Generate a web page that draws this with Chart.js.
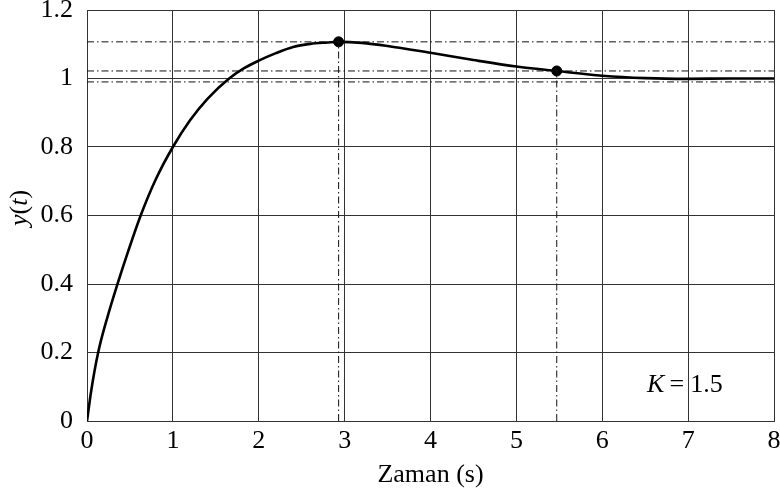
<!DOCTYPE html>
<html>
<head>
<meta charset="utf-8">
<script src="https://cdn.jsdelivr.net/npm/chart.js@4.4.1/dist/chart.umd.min.js"></script>
<style>
  body { margin: 0; background: #fff; }
  #wrap { width: 780px; height: 491px; }
</style>
</head>
<body>
<div id="wrap"><canvas id="stepChart" width="780" height="491"></canvas></div>
<script>
// step response y(t) for K = 1.5
const timeS = [0, 0.05, 0.13, 0.24, 0.355, 0.48, 0.625, 0.8, 1.0, 1.2, 1.4, 1.655, 1.83,
               2.0, 2.2, 2.4, 2.6, 2.8, 2.93, 3.2, 3.5, 4.0, 4.5, 5.0, 5.47, 6.0, 6.5, 7.0, 7.5, 8.0];
const response = [0, 0.09, 0.2, 0.305, 0.4, 0.496, 0.6, 0.705, 0.8, 0.878, 0.94, 1.0, 1.03,
                  1.052, 1.074, 1.092, 1.101, 1.105, 1.107, 1.104, 1.095, 1.075, 1.054, 1.035, 1.022, 1.008, 1.001, 0.999, 1.0, 1.0];

// peak and settling points
const markTimes = [2.93, 5.47];
const markValues = [1.107, 1.022];

// horizontal guide levels (peak, upper band, lower band)
const guideLevels = [1.107, 1.022, 0.99];

const xTicks = [0, 1, 2, 3, 4, 5, 6, 7, 8];
const yTicks = [0, 0.2, 0.4, 0.6, 0.8, 1, 1.2];
const gainSymbol = 'K';
const gainValue = '1.5';

const SERIF = '"Liberation Serif", "DejaVu Serif", serif';
const FONT_SIZE = 26;
const GRID = '#333';
const DASHDOT = [7, 3, 1.5, 3];

const datasets = [];

guideLevels.forEach(level => {
    datasets.push({
        data: [{ x: xTicks[0], y: level }, { x: xTicks[xTicks.length - 1], y: level }],
        showLine: true, borderColor: '#111', borderWidth: 1, borderDash: DASHDOT,
        pointRadius: 0
    });
});

markTimes.forEach((t, i) => {
    datasets.push({
        data: [{ x: t, y: 0 }, { x: t, y: markValues[i] }],
        showLine: true, borderColor: '#111', borderWidth: 1, borderDash: DASHDOT,
        pointRadius: 0
    });
});

datasets.push({
    data: timeS.map((t, i) => ({ x: t, y: response[i] })),
    showLine: true, borderColor: '#000', borderWidth: 2.6,
    cubicInterpolationMode: 'monotone', pointRadius: 0
});

datasets.push({
    data: markTimes.map((t, i) => ({ x: t, y: markValues[i] })),
    showLine: false, pointRadius: 5, pointBackgroundColor: '#000', pointBorderColor: '#000'
});

// y(t) title with italic symbols, and the gain note
const textPlugin = {
    id: 'textPlugin',
    afterDraw(chart) {
        const ctx = chart.ctx;
        const parts = [['y', true], ['(', false], ['t', true], [')', false]];
        const font = italic => (italic ? 'italic ' : '') + FONT_SIZE + 'px ' + SERIF;
        ctx.save();
        ctx.fillStyle = '#000';
        ctx.textBaseline = 'middle';
        ctx.textAlign = 'left';
        let total = 0;
        parts.forEach(p => { ctx.font = font(p[1]); total += ctx.measureText(p[0]).width; });
        ctx.translate(20, 208);
        ctx.rotate(-Math.PI / 2);
        let x = -total / 2;
        parts.forEach(p => {
            ctx.font = font(p[1]);
            ctx.fillText(p[0], x, 0);
            x += ctx.measureText(p[0]).width;
        });
        ctx.restore();

        // "K =" sits left of the t = 7 grid line, the value right of it
        const xs = chart.scales.x, ys = chart.scales.y;
        const gx = xs.getPixelForValue(7);
        const by = ys.getPixelForValue(0.085);
        ctx.save();
        ctx.fillStyle = '#000';
        ctx.textBaseline = 'alphabetic';
        ctx.font = font(false);
        ctx.textAlign = 'left';
        ctx.fillText(gainValue, gx + 2, by);
        ctx.textAlign = 'right';
        ctx.fillText('=', gx - 4, by);
        const eqW = ctx.measureText('=').width;
        ctx.font = font(true);
        ctx.fillText(gainSymbol, gx - 4 - eqW - 5, by);
        ctx.restore();
    }
};

new Chart(document.getElementById('stepChart'), {
    type: 'scatter',
    data: { datasets: datasets },
    plugins: [textPlugin],
    options: {
        responsive: false,
        animation: false,
        devicePixelRatio: 1,
        layout: { padding: { left: 0, right: 2, top: 10, bottom: 0 } },
        plugins: { legend: { display: false }, tooltip: { enabled: false } },
        scales: {
            x: {
                type: 'linear', min: 0, max: 8,
                afterBuildTicks: s => { s.ticks = xTicks.map(v => ({ value: v })); },
                afterFit: s => { s.height = 70; s.paddingLeft = 0; s.paddingRight = 0; },
                ticks: { color: '#000', padding: 5, font: { family: SERIF, size: FONT_SIZE } },
                grid: { color: GRID, lineWidth: 1, drawTicks: false },
                border: { color: GRID, width: 1 },
                title: { display: true, text: 'Zaman (s)', color: '#000', padding: { top: 4, bottom: 0 },
                         font: { family: SERIF, size: FONT_SIZE } }
            },
            y: {
                type: 'linear', min: 0, max: 1.2,
                afterBuildTicks: s => { s.ticks = yTicks.map(v => ({ value: v })); },
                afterFit: s => { s.width = 87; s.paddingTop = 0; s.paddingBottom = 0; },
                ticks: { color: '#000', padding: 14, font: { family: SERIF, size: FONT_SIZE },
                         callback: v => String(Number(v.toFixed(1))) },
                grid: { color: GRID, lineWidth: 1, drawTicks: false },
                border: { color: GRID, width: 1 }
            }
        }
    }
});
</script>
</body>
</html>
